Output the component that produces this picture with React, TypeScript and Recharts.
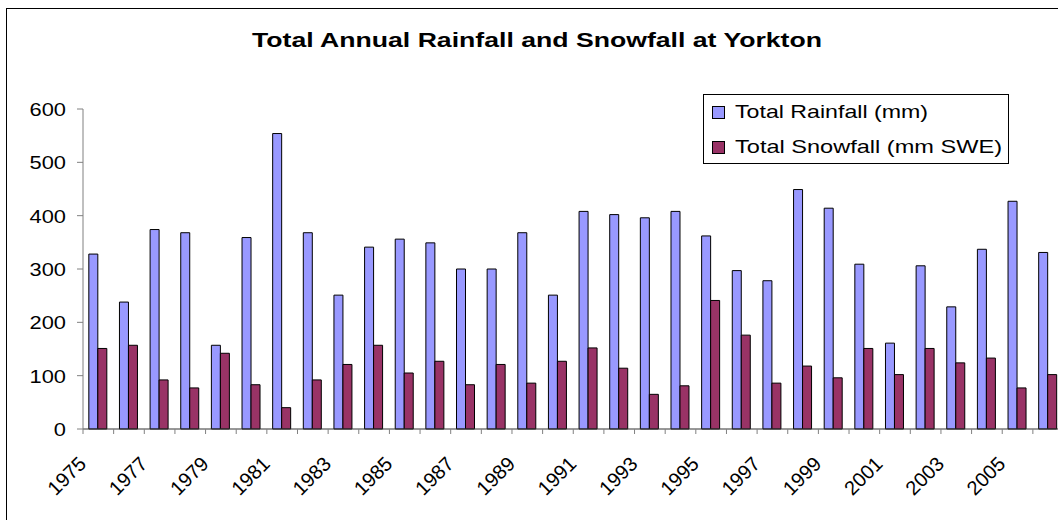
import { Bar, BarChart, Legend, XAxis, YAxis } from "recharts";

const years = [
  "1975", "1976", "1977", "1978", "1979", "1980", "1981", "1982", "1983", "1984", "1985",
  "1986", "1987", "1988", "1989", "1990", "1991", "1992", "1993", "1994", "1995", "1996",
  "1997", "1998", "1999", "2000", "2001", "2002", "2003", "2004", "2005", "2006",
];
const rainfall = [
  328, 238, 374, 368, 157, 359, 554, 368, 251, 341, 356, 349, 300, 300, 368, 251,
  408, 402, 396, 408, 362, 297, 278, 449, 414, 309, 161, 306, 229, 337, 427, 331,
];
const snowfall = [
  151, 157, 92, 77, 142, 83, 40, 92, 121, 157, 105, 127, 83, 121, 86, 127,
  152, 114, 65, 81, 241, 176, 86, 118, 96, 151, 102, 151, 124, 133, 77, 102,
];
const yTicks = [0, 100, 200, 300, 400, 500, 600];
const seriesNames = ["Total Rainfall (mm)", "Total Snowfall (mm SWE)"];
const title = "Total Annual Rainfall and Snowfall at Yorkton";

const FONT = "'Liberation Sans', Arial, sans-serif";
const RAIN = "#9999ff";
const SNOW = "#993366";

const data = years.map((year, i) => ({ year, rain: rainfall[i], snow: snowfall[i] }));

// excel-style ticks sit between categories, labels on every other year
function YearTick(props: any) {
  const { x, y, payload } = props;
  const i = years.indexOf(payload.value);
  const left = x - 15.32;
  const ax = x - 11;
  const ay = y + 36;
  return (
    <g>
      <line x1={left} y1={y} x2={left} y2={y + 5} stroke="#808080" />
      {i % 2 === 0 && (
        <text x={ax} y={ay} transform={`rotate(-45 ${ax} ${ay})`} textAnchor="end" fontSize={20} fontFamily={FONT} fill="#000">
          {payload.value}
        </text>
      )}
    </g>
  );
}

function ValueTick(props: any) {
  const { y, payload } = props;
  const tx = 66;
  return (
    <text x={tx} y={y + 7} textAnchor="end" fontSize={19} fontFamily={FONT} fill="#000" transform={`translate(${tx} 0) scale(1.15 1) translate(${-tx} 0)`}>
      {payload.value}
    </text>
  );
}

function LegendBox(props: any) {
  const items = props.payload ?? [];
  const widths = [193, 267];
  return (
    <svg width={306} height={70} style={{ display: "block" }}>
      <rect x={0.5} y={0.5} width={305} height={69} fill="#fff" stroke="#000" />
      {items.map((item: any, i: number) => (
        <g key={item.value}>
          <rect x={9.5} y={12.5 + i * 35} width={12} height={12} fill={item.color} stroke="#000" />
          <text x={32} y={24 + i * 35} fontSize={19} fontFamily={FONT} fill="#000" textLength={widths[i]} lengthAdjust="spacingAndGlyphs">
            {item.value}
          </text>
        </g>
      ))}
    </svg>
  );
}

export default function App() {
  return (
    <div style={{ position: "absolute", left: 0, top: 0, width: 1058, height: 520, overflow: "hidden", background: "#fff" }}>
      <div style={{ position: "absolute", left: 6, top: 8, width: 1100, height: 600, border: "1px solid #000" }} />
      <div style={{ position: "absolute", left: 0, top: 0 }}>
        <BarChart width={1070} height={520} data={data} margin={{ top: 109, right: 6.5, left: 0, bottom: 0 }} barGap={0} barCategoryGap="19%">
          <XAxis dataKey="year" height={91} interval={0} tick={<YearTick />} tickLine={false} tickSize={0} tickMargin={0} axisLine={{ stroke: "#333" }} />
          <YAxis width={83} domain={[0, 600]} ticks={yTicks} interval={0} tick={<ValueTick />} tickSize={6} axisLine={{ stroke: "#808080" }} tickLine={{ stroke: "#808080" }} />
          <Legend layout="horizontal" align="center" verticalAlign="middle" content={<LegendBox />} wrapperStyle={{ left: 703, top: 94, width: 306, height: 70 }} />
          <Bar dataKey="rain" name={seriesNames[0]} fill={RAIN} stroke="#000" strokeWidth={1} isAnimationActive={false} />
          <Bar dataKey="snow" name={seriesNames[1]} fill={SNOW} stroke="#000" strokeWidth={1} isAnimationActive={false} />
        </BarChart>
      </div>
      <svg width={1058} height={80} style={{ position: "absolute", left: 0, top: 0, pointerEvents: "none" }}>
        <text x={252} y={47} fontSize={20} fontWeight="bold" fontFamily={FONT} fill="#000" textLength={570} lengthAdjust="spacingAndGlyphs">
          {title}
        </text>
      </svg>
    </div>
  );
}
